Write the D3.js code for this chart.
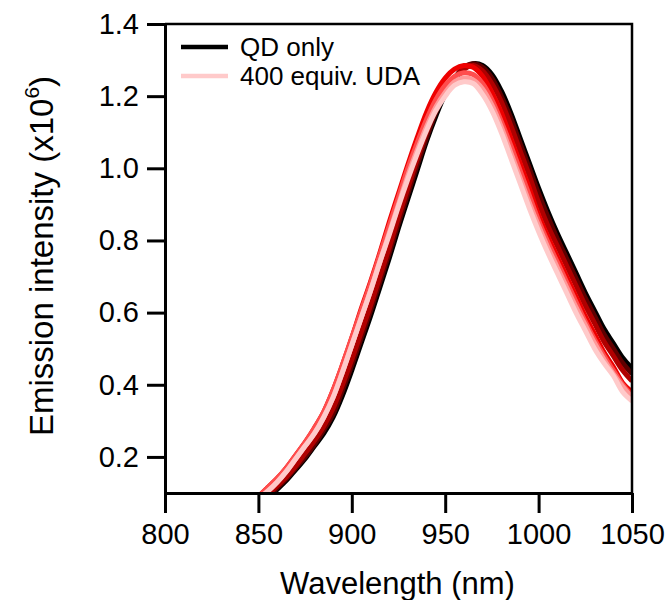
<!DOCTYPE html>
<html>
<head>
<meta charset="utf-8">
<script src="https://cdn.jsdelivr.net/npm/d3@7"></script>
<style>
  body { margin: 0; background: #fff; }
  svg { font-family: "Liberation Sans", Arial, sans-serif; }
</style>
</head>
<body>
<script>
// emission spectra, QD only -> 400 equiv. UDA
var w = 669, h = 600;

var wavelength = [850,855,860,865,870,875,880,885,890,895,900,905,910,915,920,925,930,935,940,945,950,
                  955,960,965,970,975,980,985,990,995,1000,1005,1010,1015,1020,1025,1030,1035,1040,1045,1050];

// values in units of 10^6
var qdOnly = [0.065,0.085,0.11,0.135,0.165,0.195,0.23,0.265,0.31,0.37,0.44,0.515,0.59,0.67,0.75,0.835,0.915,0.995,1.075,1.145,1.205,
              1.245,1.275,1.29,1.285,1.26,1.215,1.155,1.085,1.015,0.945,0.88,0.82,0.765,0.71,0.655,0.605,0.555,0.515,0.475,0.445];
var uda1 = [0.07,0.09,0.115,0.14,0.17,0.20,0.235,0.275,0.32,0.385,0.455,0.53,0.605,0.685,0.765,0.85,0.93,1.01,1.085,1.155,1.21,
            1.25,1.28,1.29,1.28,1.25,1.20,1.14,1.07,1.00,0.93,0.865,0.805,0.75,0.695,0.64,0.59,0.54,0.50,0.46,0.43];
var uda2 = [0.075,0.095,0.12,0.145,0.175,0.21,0.245,0.285,0.335,0.40,0.47,0.545,0.62,0.70,0.78,0.865,0.945,1.025,1.10,1.165,1.215,
            1.25,1.275,1.285,1.27,1.235,1.185,1.12,1.05,0.98,0.905,0.84,0.785,0.73,0.675,0.62,0.57,0.52,0.48,0.44,0.41];
var uda3 = [0.09,0.115,0.14,0.17,0.205,0.24,0.28,0.325,0.385,0.455,0.53,0.61,0.685,0.765,0.85,0.93,1.01,1.085,1.155,1.21,1.25,
            1.275,1.285,1.28,1.255,1.21,1.155,1.085,1.015,0.945,0.87,0.81,0.755,0.70,0.645,0.59,0.54,0.49,0.45,0.405,0.38];
var uda4 = [0.09,0.115,0.14,0.17,0.205,0.24,0.28,0.325,0.385,0.455,0.53,0.605,0.68,0.76,0.84,0.92,1.00,1.07,1.135,1.19,1.23,
            1.255,1.265,1.26,1.235,1.19,1.13,1.065,0.995,0.925,0.855,0.795,0.74,0.685,0.63,0.575,0.525,0.48,0.44,0.40,0.37];
var uda5 = [0.085,0.105,0.13,0.16,0.195,0.23,0.265,0.31,0.365,0.435,0.51,0.585,0.66,0.74,0.82,0.90,0.98,1.05,1.115,1.17,1.21,
            1.24,1.25,1.245,1.22,1.175,1.115,1.045,0.975,0.905,0.84,0.78,0.725,0.67,0.615,0.565,0.515,0.47,0.43,0.395,0.365];
var uda400 = [0.085,0.105,0.13,0.16,0.195,0.23,0.265,0.31,0.365,0.435,0.51,0.585,0.66,0.74,0.815,0.895,0.97,1.04,1.105,1.16,1.20,
              1.23,1.24,1.235,1.205,1.16,1.10,1.03,0.96,0.89,0.825,0.765,0.71,0.655,0.60,0.55,0.50,0.46,0.425,0.38,0.355];

var seriesValues = [qdOnly, uda1, uda2, uda3, uda4, uda5, uda400];
var seriesColors = ["#000000", "#5e0000", "#b00000", "#ee0000", "#ff4d4d", "#ff9999", "#ffcaca"];

var legendLabels = ["QD only", "400 equiv. UDA"];
var legendColors = ["#000000", "#ffcaca"];

var xTicks = [800, 850, 900, 950, 1000, 1050];
var yTicks = [0.2, 0.4, 0.6, 0.8, 1.0, 1.2, 1.4];

var mLeft = 165, mRight = 632, mTop = 24, mBottom = 493;

var svg = d3.select("body").append("svg")
  .attr("width", w)
  .attr("height", h);

var x = d3.scaleLinear().domain([800, 1050]).range([mLeft, mRight]);
var y = d3.scaleLinear().domain([0.1, 1.4]).range([mBottom, mTop]);

svg.append("clipPath").attr("id", "plot")
  .append("rect")
  .attr("x", mLeft).attr("y", mTop)
  .attr("width", mRight - mLeft).attr("height", mBottom - mTop);

var line = d3.line()
  .x(function(d, i) { return x(wavelength[i]); })
  .y(function(d) { return y(d); })
  .curve(d3.curveCatmullRom);

svg.append("g").attr("clip-path", "url(#plot)")
  .selectAll("path")
  .data(seriesValues)
  .enter()
  .append("path")
  .attr("d", line)
  .attr("fill", "none")
  .attr("stroke", function(d, i) { return seriesColors[i]; })
  .attr("stroke-width", 5)
  .attr("stroke-linejoin", "round");

// frame top / right
svg.append("path")
  .attr("d", "M" + mLeft + "," + mTop + "H" + mRight + "V" + mBottom)
  .attr("fill", "none")
  .attr("stroke", "#000")
  .attr("stroke-width", 2.5);

// axes
var xAxis = svg.append("g")
  .attr("transform", "translate(0," + mBottom + ")")
  .call(d3.axisBottom(x).tickValues(xTicks).tickSize(20).tickSizeOuter(0).tickPadding(10)
    .tickFormat(d3.format("d")));
xAxis.select(".domain").attr("stroke-width", 3);
xAxis.selectAll(".tick line").attr("stroke-width", 3);
xAxis.selectAll(".tick text")
  .attr("font-size", "29px")
  .attr("font-family", "Liberation Sans, Arial, sans-serif")
  .attr("fill", "#000");

var yAxis = svg.append("g")
  .attr("transform", "translate(" + mLeft + ",0)")
  .call(d3.axisLeft(y).tickValues(yTicks).tickSize(18).tickSizeOuter(0).tickPadding(8)
    .tickFormat(d3.format(".1f")));
yAxis.select(".domain").attr("stroke-width", 3);
yAxis.selectAll(".tick line").attr("stroke-width", 3);
yAxis.selectAll(".tick text")
  .attr("font-size", "29px")
  .attr("font-family", "Liberation Sans, Arial, sans-serif")
  .attr("fill", "#000");

// axis titles
svg.append("text")
  .attr("x", (mLeft + mRight) / 2 - 1)
  .attr("y", 594)
  .attr("text-anchor", "middle")
  .attr("font-size", "31px")
  .text("Wavelength (nm)");

var yt = svg.append("text")
  .attr("transform", "translate(53,256) rotate(-90)")
  .attr("text-anchor", "middle")
  .attr("font-size", "33px");
yt.append("tspan").text("Emission intensity (x10");
yt.append("tspan").attr("dy", -14).attr("font-size", "21px").text("6");
yt.append("tspan").attr("dy", 14).text(")");

// legend
var legend = svg.selectAll(".legend")
  .data(legendLabels)
  .enter()
  .append("g")
  .attr("transform", function(d, i) { return "translate(181," + (47 + i * 29) + ")"; });
legend.append("line")
  .attr("x1", 0).attr("x2", 47)
  .attr("stroke", function(d, i) { return legendColors[i]; })
  .attr("stroke-width", 4.5);
legend.append("text")
  .attr("x", 59).attr("y", 9)
  .attr("font-size", "26px")
  .text(function(d) { return d; });
</script>
</body>
</html>
